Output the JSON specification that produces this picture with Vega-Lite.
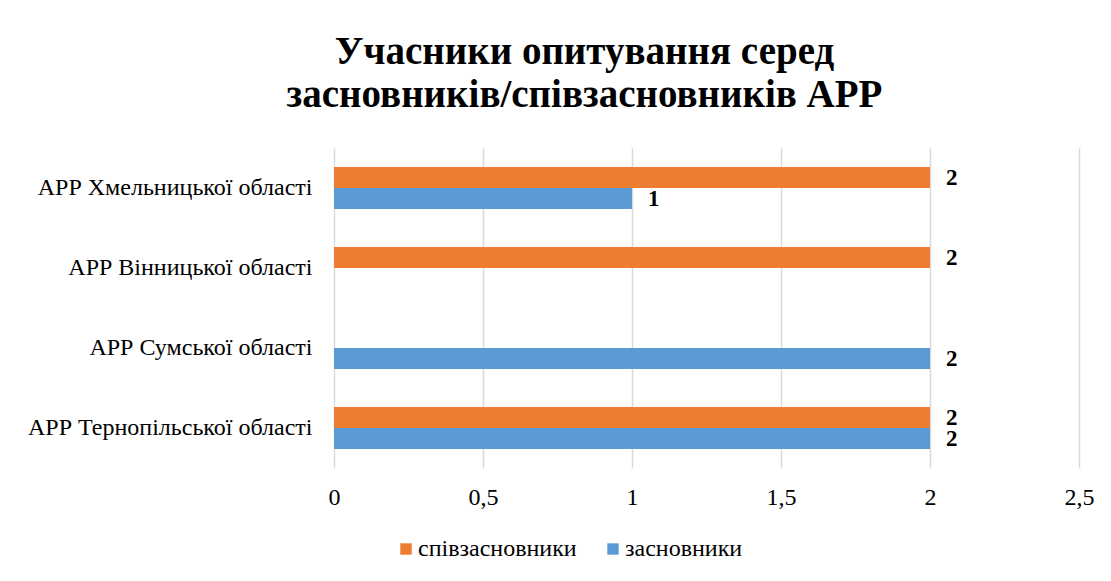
{
  "$schema": "https://vega.github.io/schema/vega-lite/v6.json",
  "autosize": {"type": "none"},
  "width": 745,
  "height": 320,
  "padding": {"left": 334, "top": 148, "right": 32, "bottom": 113},
  "background": "white",
  "title": {
    "text": ["Учасники опитування серед", "засновників/співзасновників АРР"],
    "font": "Liberation Serif",
    "fontSize": 39,
    "fontWeight": "bold",
    "color": "#000000",
    "anchor": "middle",
    "dx": -122,
    "offset": 33,
    "lineHeight": 43
  },
  "data": {
    "values": [
      {"region": "АРР Хмельницької області", "series": "співзасновники", "value": 2},
      {"region": "АРР Хмельницької області", "series": "засновники", "value": 1},
      {"region": "АРР Вінницької області", "series": "співзасновники", "value": 2},
      {"region": "АРР Сумської області", "series": "засновники", "value": 2},
      {"region": "АРР Тернопільської області", "series": "співзасновники", "value": 2},
      {"region": "АРР Тернопільської області", "series": "засновники", "value": 2}
    ]
  },
  "encoding": {
    "y": {
      "field": "region",
      "type": "nominal",
      "sort": ["АРР Хмельницької області", "АРР Вінницької області", "АРР Сумської області", "АРР Тернопільської області"],
      "scale": {"paddingInner": 0.475, "paddingOuter": 0.2375},
      "axis": {
        "title": null,
        "domain": false,
        "ticks": false,
        "labelFont": "Liberation Serif",
        "labelFontSize": 24,
        "labelColor": "#000000",
        "labelPadding": 22,
        "labelLimit": 400
      }
    },
    "yOffset": {
      "field": "series",
      "type": "nominal",
      "scale": {"domain": ["співзасновники", "засновники"]}
    },
    "x": {
      "field": "value",
      "type": "quantitative",
      "scale": {"domain": [0, 2.5], "nice": false},
      "axis": {
        "title": null,
        "values": [0, 0.5, 1, 1.5, 2, 2.5],
        "labelExpr": "replace(format(datum.value, '~g'), '.', ',')",
        "labelFlush": false,
        "domain": false,
        "ticks": false,
        "grid": true,
        "gridColor": "#d9d9d9",
        "gridWidth": 1.5,
        "labelFont": "Liberation Serif",
        "labelFontSize": 24,
        "labelColor": "#000000",
        "labelPadding": 17
      }
    }
  },
  "layer": [
    {
      "mark": {"type": "bar"},
      "encoding": {
        "color": {
          "field": "series",
          "type": "nominal",
          "scale": {"domain": ["співзасновники", "засновники"], "range": ["#ED7D31", "#5B9BD5"]},
          "legend": {
            "title": null,
            "orient": "none",
            "direction": "horizontal",
            "legendX": 60,
            "legendY": 389,
            "symbolType": "square",
            "symbolSize": 130,
            "symbolStrokeWidth": 0,
            "labelFont": "Liberation Serif",
            "labelFontSize": 24,
            "labelColor": "#000000",
            "columnPadding": 24,
            "labelOffset": 0
          }
        }
      }
    },
    {
      "mark": {
        "type": "text",
        "align": "left",
        "baseline": "middle",
        "dx": 16,
        "font": "Liberation Serif",
        "fontSize": 23,
        "fontWeight": "bold",
        "color": "#000000"
      },
      "encoding": {
        "text": {"field": "value", "type": "quantitative"}
      }
    }
  ],
  "config": {"view": {"stroke": null}}
}
